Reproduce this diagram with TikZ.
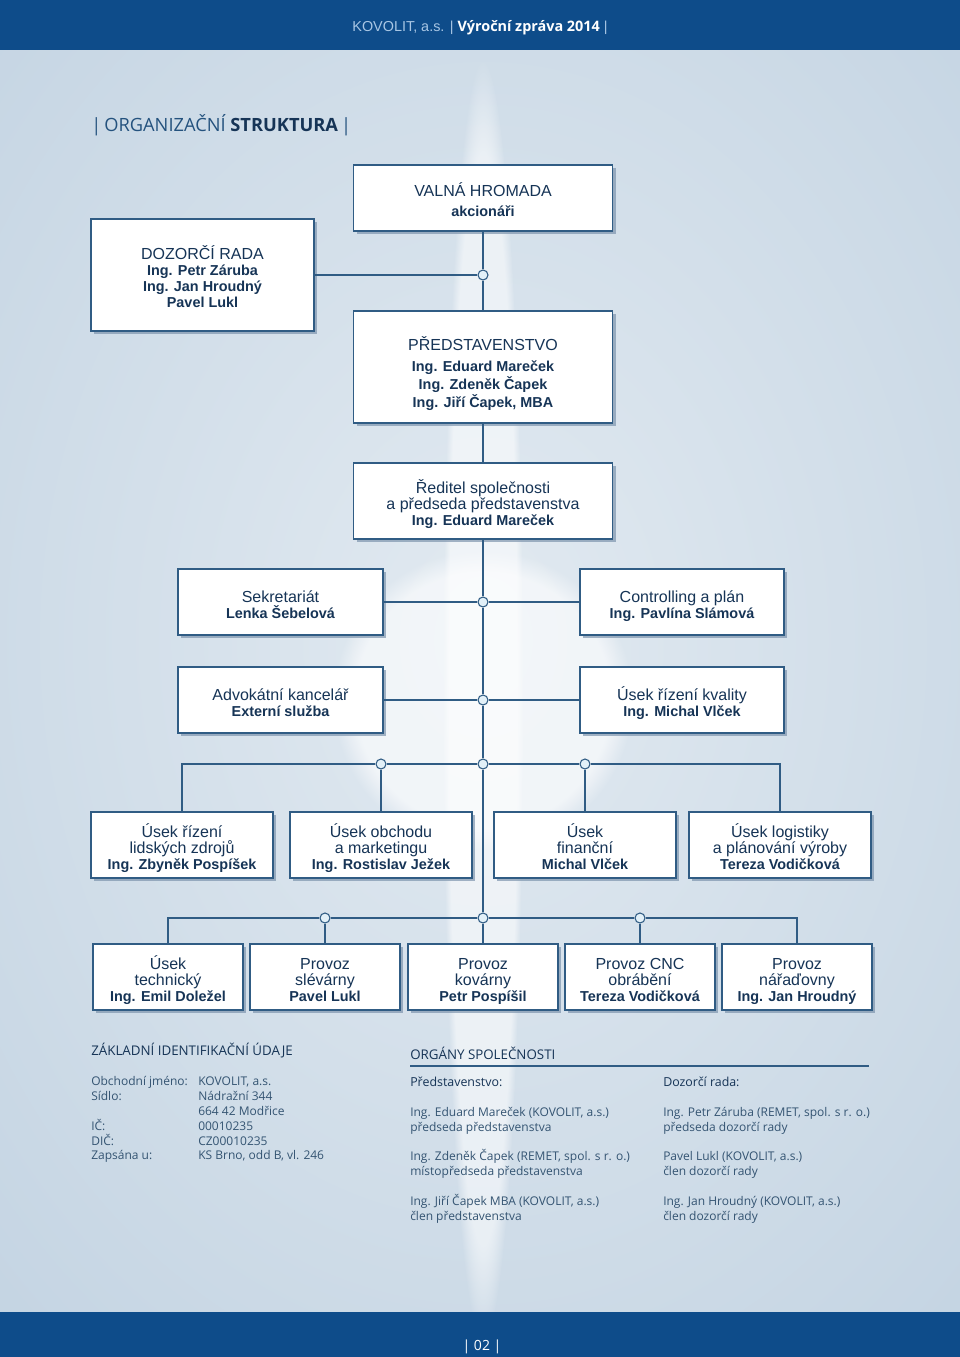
\documentclass[tikz,border=0pt]{standalone}
\usepackage{fontspec}
\setmainfont{Liberation Sans}
\newfontfamily\frutfont{Open Sans}
\usetikzlibrary{shadows,fadings}

\definecolor{bandblue}{RGB}{14,76,138}
\definecolor{headlight}{RGB}{168,198,228}
\definecolor{paleblue}{RGB}{178,199,218}
\definecolor{softblue}{RGB}{226,234,241}
\definecolor{boxline}{RGB}{48,92,132}
\definecolor{navy}{RGB}{22,52,86}
\definecolor{titleblue}{RGB}{36,82,126}
\definecolor{infogray}{RGB}{52,84,114}
\definecolor{shadowblue}{RGB}{118,142,168}
\definecolor{dotfill}{RGB}{226,240,248}

\tikzset{
  orgbox/.style={draw=boxline, line width=0.9pt, fill=white, text=navy, align=center, inner sep=0pt,
    font=\fontsize{12}{12}\selectfont, execute at end node={\rule[-3.5pt]{0pt}{0pt}},
    drop shadow={shadow xshift=2.6pt, shadow yshift=-2.6pt, fill=shadowblue, opacity=0.65}},
  junction/.style={circle, draw=boxline, line width=0.8pt, fill=dotfill, inner sep=0pt, minimum size=7.5pt},
  link/.style={draw=boxline, line width=0.9pt},
  infotext/.style={anchor=base west, inner sep=0pt, text=infogray, font=\frutfont\fontsize{9}{11}\selectfont},
  infohead/.style={anchor=west, inner sep=0pt, text=navy, font=\frutfont\fontsize{10}{12}\selectfont},
}
\newcommand{\pname}[1]{{\fontsize{10.8}{12}\selectfont\bfseries #1}}
\newcommand{\hd}{\rule{0pt}{16pt}}

\begin{document}
\begin{tikzpicture}[x=0.75pt, y=-0.75pt]
\useasboundingbox (0,0) rectangle (960,1357);

% backdrop
\fill[paleblue] (0,0) rectangle (960,1357);
\begin{scope}
  \clip (0,50) rectangle (960,1312);
  \shade[inner color=softblue, outer color=paleblue] (483,640) ellipse [x radius=1150, y radius=1500];
  \fill[white, path fading=circle with fuzzy edge 15 percent, opacity=0.55] (483,700) ellipse [x radius=40, y radius=640];
  \fill[white, path fading=circle with fuzzy edge 15 percent, opacity=0.6] (483,700) circle (150);
\end{scope}
\fill[bandblue] (0,0) rectangle (960,50);
\fill[bandblue] (0,1312) rectangle (960,1357);

\node[font=\fontsize{10.8}{13}\selectfont] (header) at (480,28)
  {{\color{headlight}KOVOLIT, a.s. |} {\frutfont\bfseries\color{white}Výroční zpráva 2014} {\color{headlight}|}};
\node[anchor=west, inner sep=0pt, text=titleblue, font=\frutfont\fontsize{13.7}{16}\selectfont] (title) at (91,125)
  {|\,ORGANIZAČNÍ {\color{navy}\bfseries STRUKTURA}\,|};

% top of the chart
\node[orgbox, minimum width=194.25pt, minimum height=49.5pt] (valna) at (483,198)
  {\hd VALNÁ HROMADA\\[3pt]\pname{akcionáři}};
\node[orgbox, minimum width=167.25pt, minimum height=84pt] (dozorci) at (202.5,275)
  {\hd DOZORČÍ RADA\\\pname{Ing. Petr Záruba}\\\pname{Ing. Jan Hroudný}\\\pname{Pavel Lukl}};
\node[orgbox, minimum width=194.25pt, minimum height=84pt] (predst) at (483,367)
  {\rule{0pt}{21pt}PŘEDSTAVENSTVO\\[3.75pt]\pname{Ing. Eduard Mareček}\\[1.5pt]\pname{Ing. Zdeněk Čapek}\\[1.5pt]\pname{Ing. Jiří Čapek, MBA}};
\node[orgbox, minimum width=194.25pt, minimum height=57pt] (reditel) at (483,501)
  {\hd Ředitel společnosti\\a předseda představenstva\\\pname{Ing. Eduard Mareček}};

% staff units
\node[orgbox, minimum width=153.75pt, minimum height=49.5pt] (sekret) at (280.5,602)
  {\hd Sekretariát\\\pname{Lenka Šebelová}};
\node[orgbox, minimum width=153pt, minimum height=49.5pt] (control) at (682,602)
  {\hd Controlling a plán\\\pname{Ing. Pavlína Slámová}};
\node[orgbox, minimum width=153.75pt, minimum height=49.5pt] (advokat) at (280.5,700)
  {\hd Advokátní kancelář\\\pname{Externí služba}};
\node[orgbox, minimum width=153pt, minimum height=49.5pt] (kvalita) at (682,700)
  {\hd Úsek řízení kvality\\\pname{Ing. Michal Vlček}};

% divisions
\node[orgbox, minimum width=136.5pt, minimum height=49.5pt] (lidske) at (182,845)
  {\hd Úsek řízení\\lidských zdrojů\\\pname{Ing. Zbyněk Pospíšek}};
\node[orgbox, minimum width=136.5pt, minimum height=49.5pt] (obchod) at (381,845)
  {\hd Úsek obchodu\\a marketingu\\\pname{Ing. Rostislav Ježek}};
\node[orgbox, minimum width=136.5pt, minimum height=49.5pt] (financni) at (585,845)
  {\hd Úsek\\finanční\\\pname{Michal Vlček}};
\node[orgbox, minimum width=136.5pt, minimum height=49.5pt] (logist) at (780,845)
  {\hd Úsek logistiky\\a plánování výroby\\\pname{Tereza Vodičková}};

% plants
\foreach \id/\cx/\txt in {technicky/168/{Úsek\\technický\\\pname{Ing. Emil Doležel}},
                          slevarny/325/{Provoz\\slévárny\\\pname{Pavel Lukl}},
                          kovarny/483/{Provoz\\kovárny\\\pname{Petr Pospíšil}},
                          cnc/640/{Provoz CNC\\obrábění\\\pname{Tereza Vodičková}},
                          naradovny/797/{Provoz\\nářaďovny\\\pname{Ing. Jan Hroudný}}}
  \node[orgbox, minimum width=112.5pt, minimum height=49.5pt] (\id) at (\cx,977) {\hd\txt};

% junctions
\node[junction] (j1) at (483,275) {};
\node[junction] (j2) at (483,602) {};
\node[junction] (j3) at (483,700) {};
\node[junction] (j4) at (483,764) {};
\node[junction] (j5) at (483,918) {};
\node[junction] (k41) at (381,764) {};
\node[junction] (k43) at (585,764) {};
\node[junction] (k51) at (325,918) {};
\node[junction] (k53) at (640,918) {};

\draw[link] (valna) -- (j1) -- (predst);
\draw[link] (j1) -- (dozorci);
\draw[link] (predst) -- (reditel);
\draw[link] (reditel) -- (j2) -- (j3) -- (j4) -- (j5) -- (kovarny);
\draw[link] (sekret) -- (j2) -- (control);
\draw[link] (advokat) -- (j3) -- (kvalita);
\draw[link] (lidske) |- (k41) -- (j4) -- (k43) -| (logist);
\draw[link] (k41) -- (obchod);
\draw[link] (k43) -- (financni);
\draw[link] (technicky) |- (k51) -- (j5) -- (k53) -| (naradovny);
\draw[link] (k51) -- (slevarny);
\draw[link] (k53) -- (cnc);

% identification data
\node[infohead] (zakladni) at (91,1051) {ZÁKLADNÍ IDENTIFIKAČNÍ ÚDAJE};
\foreach \lab/\val [count=\i] in {Obchodní jméno:/{KOVOLIT, a.s.}, Sídlo:/Nádražní 344, {}/664 42 Modřice,
                                  IČ:/00010235, DIČ:/CZ00010235, Zapsána u:/{KS Brno, odd B, vl. 246}}
{
  \node[infotext] (idlab-\i) at (91,1071+14.8*\i) {\lab};
  \node[infotext] (idval-\i) at (198,1071+14.8*\i) {\val};
}

% company bodies
\node[infohead] (organy) at (410,1053) {ORGÁNY SPOLEČNOSTI};
\draw[boxline, line width=0.8pt] (410,1066) -- (869,1066);
\node[infotext, text=navy, font=\frutfont\fontsize{9.3}{11}\selectfont] (predhead) at (410,1086) {Představenstvo:};
\node[infotext, text=navy, font=\frutfont\fontsize{9.3}{11}\selectfont] (dozhead) at (663,1086) {Dozorčí rada:};
\foreach \y/\left/\right [count=\i] in {1112/{Ing. Eduard Mareček (KOVOLIT, a.s.)}/{Ing. Petr Záruba (REMET, spol. s r. o.)},
                                        1127/předseda představenstva/předseda dozorčí rady,
                                        1156/{Ing. Zdeněk Čapek (REMET, spol. s r. o.)}/{Pavel Lukl (KOVOLIT, a.s.)},
                                        1171/místopředseda představenstva/člen dozorčí rady,
                                        1201/{Ing. Jiří Čapek MBA (KOVOLIT, a.s.)}/{Ing. Jan Hroudný (KOVOLIT, a.s.)},
                                        1216/člen představenstva/člen dozorčí rady}
{
  \node[infotext] (predline-\i) at (410,\y+4.5) {\left};
  \node[infotext] (dozline-\i) at (663,\y+4.5) {\right};
}

\node[text=white, font=\frutfont\fontsize{10.5}{12}\selectfont] (pagenum) at (482,1347) {| 02 |};
\end{tikzpicture}
\end{document}
